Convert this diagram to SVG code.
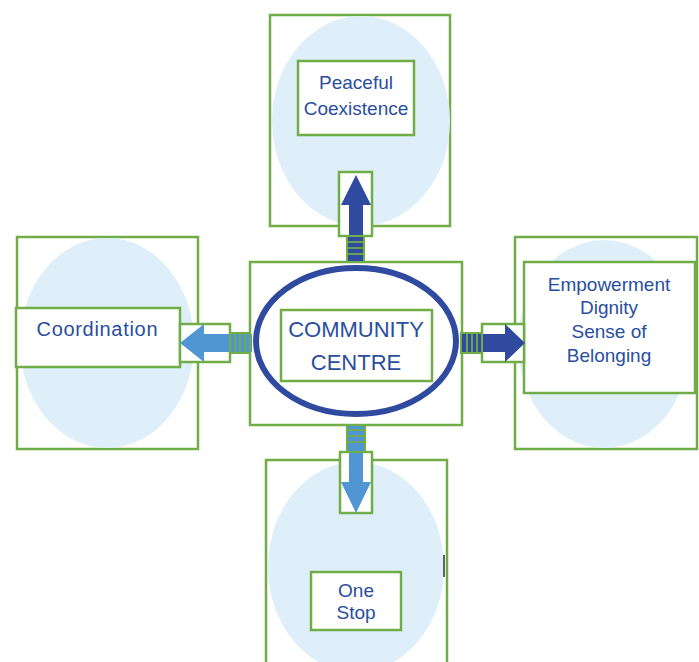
<svg xmlns="http://www.w3.org/2000/svg" width="699" height="662" viewBox="0 0 699 662">
<style>
.frame{fill:#fff;stroke:#70AD47;stroke-width:2.5}
.label{fill:#fff;stroke:#70AD47;stroke-width:2.5}
.halo{fill:#DEEFFA}
.t{font-family:"Liberation Sans",Arial,sans-serif;font-size:19px;fill:#2A4E9E;text-anchor:middle}
.big{font-size:22px}
.abox{fill:#fff;stroke:#70AD47;stroke-width:2.5}
.stub{stroke:#70AD47;stroke-width:2}
.dark{fill:#2F4A9F}
.light{fill:#5096D2}
.stripe{stroke:#70AD47;stroke-width:1.8}
</style>
<rect width="699" height="662" fill="#fff"/>

<g id="node-peaceful">
<rect class="frame" x="270" y="15" width="180" height="211"/>
<ellipse class="halo" cx="361" cy="121" rx="89" ry="105"/>
<rect class="label" x="298" y="61" width="116" height="74"/>
<text class="t" x="356" y="89">Peaceful</text>
<text class="t" x="356" y="115">Coexistence</text>
</g>

<g id="node-coordination">
<rect class="frame" x="17" y="237" width="181" height="212"/>
<ellipse class="halo" cx="107" cy="343" rx="87" ry="105"/>
<rect class="label" x="16" y="308" width="164" height="59"/>
<text class="t" x="97" y="336" style="font-size:20px" textLength="121">Coordination</text>
</g>

<g id="node-empowerment">
<rect class="frame" x="515" y="237" width="182" height="212"/>
<ellipse class="halo" cx="604" cy="344" rx="86" ry="104"/>
<rect class="label" x="524" y="262" width="171" height="131"/>
<text class="t" x="609" y="291">Empowerment</text>
<text class="t" x="609" y="314">Dignity</text>
<text class="t" x="609" y="338">Sense of</text>
<text class="t" x="609" y="362">Belonging</text>
</g>

<g id="node-onestop">
<rect class="frame" x="266" y="460" width="181" height="215"/>
<ellipse class="halo" cx="356" cy="567" rx="88" ry="105"/>
<rect class="label" x="311" y="572" width="90" height="58"/>
<text class="t" x="356" y="597">One</text>
<text class="t" x="356" y="619">Stop</text>
<line x1="444" y1="555" x2="444" y2="577" stroke="#333" stroke-width="1.5"/>
</g>

<g id="node-centre">
<rect class="frame" x="250" y="262" width="212" height="163"/>
<ellipse cx="356" cy="341" rx="100" ry="73" fill="#fff" stroke="#2F4A9F" stroke-width="6"/>
<rect class="label" x="281" y="310" width="151" height="71"/>
<text class="t big" x="356" y="337">COMMUNITY</text>
<text class="t big" x="356" y="370">CENTRE</text>
</g>

<g id="connectors">
<!-- up -->
<rect class="abox" x="339" y="172" width="33" height="64"/>
<polygon class="dark" points="356,175 371,205 363,205 363,262 349,262 349,205 341,205"/>
<rect class="stub" x="347" y="236" width="17" height="26" fill="#2F4A9F"/>
<line class="stripe" x1="347" y1="242" x2="364" y2="242"/>
<line class="stripe" x1="347" y1="248" x2="364" y2="248"/>
<line class="stripe" x1="347" y1="254" x2="364" y2="254"/>
<!-- left -->
<rect class="abox" x="180" y="324" width="50" height="38"/>
<polygon class="light" points="180,343 204,324 204,334 252,334 252,352 204,352 204,362"/>
<rect class="stub" x="230" y="333" width="20" height="20" fill="#5096D2"/>
<line class="stripe" x1="235" y1="333" x2="235" y2="353"/>
<line class="stripe" x1="240" y1="333" x2="240" y2="353"/>
<line class="stripe" x1="245" y1="333" x2="245" y2="353"/>
<!-- right -->
<rect class="abox" x="482" y="324" width="42" height="38"/>
<polygon class="dark" points="525,343 505,324 505,334 460,334 460,352 505,352 505,362"/>
<rect class="stub" x="461" y="333" width="21" height="20" fill="#2F4A9F"/>
<line class="stripe" x1="467" y1="333" x2="467" y2="353"/>
<line class="stripe" x1="472" y1="333" x2="472" y2="353"/>
<line class="stripe" x1="477" y1="333" x2="477" y2="353"/>
<!-- down -->
<rect class="abox" x="340" y="452" width="32" height="61"/>
<polygon class="light" points="356,513 341,482 349,482 349,424 363,424 363,482 371,482"/>
<rect class="stub" x="347" y="425" width="18" height="27" fill="#5096D2"/>
<line class="stripe" x1="347" y1="430" x2="365" y2="430"/>
<line class="stripe" x1="347" y1="436" x2="365" y2="436"/>
<line class="stripe" x1="347" y1="442" x2="365" y2="442"/>
</g>
</svg>
